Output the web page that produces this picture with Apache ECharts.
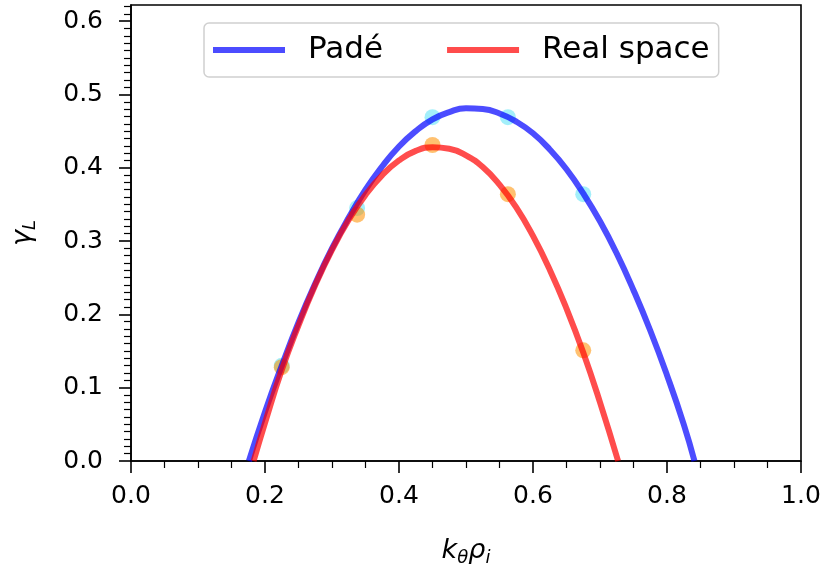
<!DOCTYPE html>
<html>
<head>
<meta charset="utf-8">
<script src="https://cdn.jsdelivr.net/npm/echarts@6/dist/echarts.min.js"></script>
<style>
  html, body { margin: 0; padding: 0; background: #fff; }
  #chart { width: 825px; height: 572px; }
</style>
</head>
<body>
<div id="chart"></div>
<script>
// Sampled growth-rate points
const kPoints = [0.225, 0.3375, 0.45, 0.5625, 0.675];
const padePoints = [0.130, 0.345, 0.469, 0.469, 0.364];
const realPoints = [0.128, 0.336, 0.431, 0.364, 0.151];

// Fitted curves
const padeK = [0.176, 0.200, 0.225, 0.250, 0.275, 0.300, 0.325, 0.350, 0.375, 0.400, 0.425, 0.450, 0.475,
               0.500, 0.525, 0.550, 0.575, 0.600, 0.625, 0.650, 0.675, 0.700, 0.725, 0.750, 0.775, 0.800, 0.825, 0.841];
const padeGamma = [0, 0.067, 0.130, 0.189, 0.242, 0.290, 0.332, 0.370, 0.402, 0.429, 0.450, 0.466, 0.476,
                   0.481, 0.480, 0.474, 0.463, 0.447, 0.425, 0.398, 0.365, 0.327, 0.283, 0.233, 0.178, 0.117, 0.050, 0];
const realK = [0.183, 0.200, 0.225, 0.250, 0.275, 0.300, 0.325, 0.350, 0.375, 0.400, 0.425, 0.450, 0.475,
               0.500, 0.525, 0.550, 0.575, 0.600, 0.625, 0.650, 0.675, 0.700, 0.727];
const realGamma = [0, 0.052, 0.124, 0.185, 0.240, 0.288, 0.329, 0.363, 0.390, 0.410, 0.423, 0.428, 0.426,
                   0.417, 0.401, 0.377, 0.346, 0.307, 0.261, 0.208, 0.148, 0.080, 0];

// Axis ticks
const xTicks = [0, 0.2, 0.4, 0.6, 0.8, 1.0];
const yTicks = [0, 0.1, 0.2, 0.3, 0.4, 0.5, 0.6];
const yMinorStep = 0.01;

const pairs = (xs, ys) => xs.map((x, i) => [x, ys[i]]);

const yMinor = [];
for (let i = 1; i <= 62; i++) {
  if (i % 10 !== 0) yMinor.push(+(i * yMinorStep).toFixed(2));
}

const FONT = 'DejaVu Sans';
const INK = '#000';
const BLUE = 'rgba(0,0,255,0.7)';
const RED = 'rgba(255,0,0,0.7)';

const chart = echarts.init(document.getElementById('chart'), null, { renderer: 'canvas' });

chart.setOption({
  animation: false,
  backgroundColor: '#fff',
  textStyle: { fontFamily: FONT },
  grid: {
    left: 131, right: 24, top: 5, bottom: 111,
    show: true, borderColor: INK, borderWidth: 1.6,
    containLabel: false, outerBoundsMode: 'none'
  },
  legend: {
    data: [{ name: 'Padé', icon: 'rect' }, { name: 'Real space', icon: 'rect' }],
    left: 204, top: 23,
    orient: 'horizontal',
    itemWidth: 72, itemHeight: 6, itemGap: 64,
    padding: [9, 9, 9, 9],
    borderColor: '#d0d0d0', borderWidth: 1.5, borderRadius: 5,
    backgroundColor: '#fff',
    textStyle: { fontSize: 31, fontFamily: FONT, color: INK, padding: [0, 0, 0, 18], lineHeight: 36 }
  },
  xAxis: {
    type: 'value', min: 0, max: 1, interval: 0.2,
    axisLine: { show: true, lineStyle: { color: INK, width: 1.6 } },
    axisTick: { show: true, length: 12, lineStyle: { color: INK, width: 1.6 } },
    minorTick: { show: true, splitNumber: 4, length: 7, lineStyle: { color: INK, width: 1.2 } },
    splitLine: { show: false },
    axisLabel: {
      fontSize: 25, color: INK, fontFamily: FONT, margin: 23,
      formatter: v => xTicks.some(t => Math.abs(t - v) < 1e-9) ? v.toFixed(1) : ''
    },
    name: '{a|k}{b|θ}{a|ρ}{b|i}',
    nameLocation: 'middle', nameGap: 74,
    nameTextStyle: {
      rich: {
        a: { fontSize: 27, fontStyle: 'italic', fontFamily: FONT, color: INK, lineHeight: 32, verticalAlign: 'middle' },
        b: { fontSize: 18, fontStyle: 'italic', fontFamily: FONT, color: INK, lineHeight: 18, verticalAlign: 'bottom' }
      }
    }
  },
  yAxis: [
    {
      type: 'value', min: 0, max: 0.622,
      axisLine: { show: true, lineStyle: { color: INK, width: 1.6 } },
      axisTick: { show: true, length: 12, customValues: yTicks, lineStyle: { color: INK, width: 1.6 } },
      splitLine: { show: false },
      axisLabel: {
        fontSize: 25, color: INK, fontFamily: FONT, margin: 28,
        customValues: yTicks,
        formatter: v => v.toFixed(1)
      },
      name: '{a|γ}{b|L}',
      nameLocation: 'middle', nameGap: 92, nameRotate: 90,
      nameTextStyle: {
        rich: {
          a: { fontSize: 27, fontStyle: 'italic', fontFamily: FONT, color: INK, lineHeight: 32, verticalAlign: 'middle' },
          b: { fontSize: 18, fontStyle: 'italic', fontFamily: FONT, color: INK, lineHeight: 18, verticalAlign: 'bottom' }
        }
      }
    },
    {
      type: 'value', min: 0, max: 0.622, position: 'left',
      axisLine: { show: false },
      axisTick: { show: true, length: 7, customValues: yMinor, lineStyle: { color: INK, width: 1.2 } },
      axisLabel: { show: false },
      splitLine: { show: false }
    }
  ],
  series: [
    {
      name: 'Padé samples', type: 'scatter', yAxisIndex: 0,
      data: pairs(kPoints, padePoints),
      symbol: 'circle', symbolSize: 16,
      itemStyle: { color: 'rgba(0,210,240,0.45)' },
      z: 1
    },
    {
      name: 'Real space samples', type: 'scatter', yAxisIndex: 0,
      data: pairs(kPoints, realPoints),
      symbol: 'circle', symbolSize: 16,
      itemStyle: { color: 'rgba(255,145,0,0.7)' },
      z: 1
    },
    {
      name: 'Padé', type: 'line', yAxisIndex: 0,
      data: pairs(padeK, padeGamma),
      smooth: true, showSymbol: false, clip: true,
      color: BLUE,
      lineStyle: { color: BLUE, width: 6 },
      z: 2
    },
    {
      name: 'Real space', type: 'line', yAxisIndex: 0,
      data: pairs(realK, realGamma),
      smooth: true, showSymbol: false, clip: true,
      color: RED,
      lineStyle: { color: RED, width: 6 },
      z: 3
    }
  ]
});
</script>
</body>
</html>
